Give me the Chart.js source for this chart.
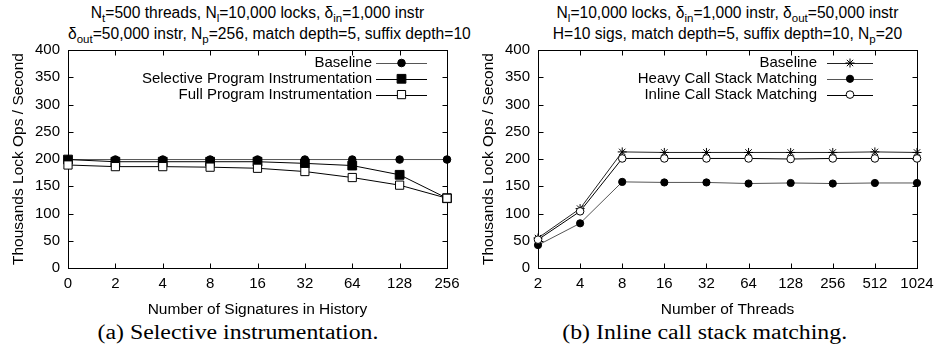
<!DOCTYPE html>
<html>
<head>
<meta charset="utf-8">
<script src="https://cdn.jsdelivr.net/npm/chart.js@4"></script>
<style>
  body { margin: 0; background: #fff; }
  #page { position: relative; width: 938px; height: 359px; overflow: hidden; font-family: "Liberation Sans", Arial, sans-serif; }
  canvas { position: absolute; top: 40px; }
  .title { position: absolute; top: 3px; width: 379px; text-align: center; font-size: 15.6px; line-height: 19px; color: #000; white-space: nowrap; }
  .title .s { font-size: 11.5px; position: relative; top: 4px; }
  .cap { position: absolute; top: 320px; width: 469px; text-align: center; font-family: "Liberation Serif", "Times New Roman", serif; font-size: 20px; line-height: 24px; color: #000; }
  .cap span { display: inline-block; transform: scaleX(1.19); }
</style>
</head>
<body>
<div id="page">
  <div class="title" style="left:68px">N<span class="s">t</span>=500 threads, N<span class="s">l</span>=10,000 locks, δ<span class="s">in</span>=1,000 instr<br>δ<span class="s">out</span>=50,000 instr, N<span class="s">p</span>=256, match depth=5, suffix depth=10</div>
  <div class="title" style="left:538px">N<span class="s">l</span>=10,000 locks, δ<span class="s">in</span>=1,000 instr, δ<span class="s">out</span>=50,000 instr<br>H=10 sigs, match depth=5, suffix depth=10, N<span class="s">p</span>=20</div>
  <canvas id="chartA" width="468" height="280" style="left:0px"></canvas>
  <canvas id="chartB" width="468" height="280" style="left:470px"></canvas>
  <div class="cap" style="left:4px"><span>(a) Selective instrumentation.</span></div>
  <div class="cap" style="left:470px"><span>(b) Inline call stack matching.</span></div>
</div>
<script>
// (a) selective instrumentation
const sigLabels = ["0", "2", "4", "8", "16", "32", "64", "128", "256"];
const baselineA = [199, 199, 199, 199, 199, 199, 199, 199, 199];
const selective = [199, 195, 195, 195, 195, 192, 188, 171, 128];
const fullProg = [189, 186, 186, 185, 183, 177, 166, 152, 128];

// (b) inline call stack matching
const threadLabels = ["2", "4", "8", "16", "32", "64", "128", "256", "512", "1024"];
const baselineB = [55, 109, 213, 212, 212, 212, 212, 212, 213, 212];
const heavy = [42, 82, 158, 157, 157, 155, 156, 155, 156, 156];
const inline = [52, 104, 201, 201, 201, 201, 200, 201, 201, 201];

const TICK_FONT = { family: "Liberation Sans, Arial, sans-serif", size: 15 };
const TITLE_FONT = { family: "Liberation Sans, Arial, sans-serif", size: 15.5 };

function drawMarker(ctx, style, r, x, y, fill) {
  ctx.save();
  ctx.lineWidth = 1;
  ctx.strokeStyle = "#000";
  ctx.fillStyle = fill;
  ctx.beginPath();
  if (style === "circle") {
    ctx.arc(x, y, r, 0, Math.PI * 2);
    ctx.fill();
    ctx.stroke();
  } else if (style === "rect") {
    const h = r * Math.SQRT1_2;
    ctx.rect(x - h, y - h, 2 * h, 2 * h);
    ctx.fill();
    ctx.stroke();
  } else if (style === "star") {
    const d = r * Math.SQRT1_2;
    ctx.moveTo(x - r, y); ctx.lineTo(x + r, y);
    ctx.moveTo(x, y - r); ctx.lineTo(x, y + r);
    ctx.moveTo(x - d, y - d); ctx.lineTo(x + d, y + d);
    ctx.moveTo(x - d, y + d); ctx.lineTo(x + d, y - d);
    ctx.stroke();
  }
  ctx.restore();
}

// gnuplot-like frame with inward ticks on all four sides, plus the right-aligned key
const framePlugin = {
  id: "frame",
  beforeDatasetsDraw(chart) {
    const { ctx, chartArea: a, scales } = chart;
    const L = Math.round(a.left) + 0.5, R = Math.round(a.right) + 0.5;
    const T = Math.round(a.top) + 0.5, B = Math.round(a.bottom) + 0.5;
    ctx.save();
    ctx.strokeStyle = "#000";
    ctx.lineWidth = 1;
    ctx.beginPath();
    scales.y.ticks.forEach((t, i) => {
      const y = Math.round(scales.y.getPixelForTick(i)) + 0.5;
      ctx.moveTo(L, y); ctx.lineTo(L + 5, y);
      ctx.moveTo(R, y); ctx.lineTo(R - 5, y);
    });
    scales.x.ticks.forEach((t, i) => {
      const x = Math.round(scales.x.getPixelForTick(i)) + 0.5;
      ctx.moveTo(x, B); ctx.lineTo(x, B - 5);
      ctx.moveTo(x, T); ctx.lineTo(x, T + 5);
    });
    ctx.stroke();
    ctx.strokeRect(L, T, R - L, B - T);
    ctx.restore();
  },
  afterDraw(chart, args, opts) {
    const { ctx, chartArea: a } = chart;
    ctx.save();
    ctx.font = "15px Liberation Sans, Arial, sans-serif";
    ctx.textAlign = "right";
    ctx.textBaseline = "middle";
    ctx.fillStyle = "#000";
    chart.data.datasets.forEach((ds, i) => {
      const y = a.top + 13 + 15.8 * i;
      ctx.fillText(ds.label, a.right + opts.textRight, y);
      ctx.strokeStyle = ds.borderColor;
      ctx.lineWidth = 1;
      ctx.beginPath();
      ctx.moveTo(a.right + opts.lineStart, Math.round(y) + 0.5);
      ctx.lineTo(a.right + opts.lineEnd, Math.round(y) + 0.5);
      ctx.stroke();
      drawMarker(ctx, ds.pointStyle, ds.pointRadius, a.right + (opts.lineStart + opts.lineEnd) / 2, y, ds.pointBackgroundColor);
    });
    ctx.restore();
  }
};

function series(label, data, style, radius, fill, lineColor, order) {
  return {
    label: label,
    data: data,
    borderColor: lineColor,
    borderWidth: 1,
    tension: 0,
    fill: false,
    pointStyle: style,
    pointRadius: radius,
    pointBackgroundColor: fill,
    pointBorderColor: "#000",
    pointBorderWidth: 1,
    order: order
  };
}

function makeChart(id, labels, datasets, xTitle, key) {
  return new Chart(document.getElementById(id), {
    type: "line",
    data: { labels: labels, datasets: datasets },
    plugins: [framePlugin],
    options: {
      responsive: false,
      animation: false,
      events: [],
      layout: { padding: { top: 10, right: 21, left: 0, bottom: 0 } },
      plugins: { legend: { display: false }, tooltip: { enabled: false }, frame: key },
      scales: {
        x: {
          grid: { display: false, drawTicks: false },
          border: { display: false },
          ticks: { color: "#000", font: TICK_FONT, padding: 7, maxRotation: 0, autoSkip: false },
          title: { display: true, text: xTitle, color: "#000", font: TITLE_FONT, padding: { top: 0, bottom: 1 } },
          afterFit: s => { s.height = 52; s.paddingLeft = 0; s.paddingRight = 0; }
        },
        y: {
          min: 0,
          max: 400,
          grid: { display: false, drawTicks: false },
          border: { display: false },
          ticks: { stepSize: 50, color: "#000", font: TICK_FONT, padding: 8 },
          title: { display: true, text: "Thousands Lock Ops / Second", color: "#000", font: TITLE_FONT, padding: { top: 9, bottom: 0 } },
          afterFit: s => { s.width = 68; s.paddingTop = 0; s.paddingBottom = 0; }
        }
      }
    }
  });
}

makeChart("chartA", sigLabels, [
  series("Baseline", baselineA, "circle", 3.8, "#000", "#555", 0),
  series("Selective Program Instrumentation", selective, "rect", 6.2, "#000", "#000", -1),
  series("Full Program Instrumentation", fullProg, "rect", 5.8, "#fff", "#000", -2)
], "Number of Signatures in History", { textRight: -75, lineStart: -71, lineEnd: -20 });

makeChart("chartB", threadLabels, [
  series("Baseline", baselineB, "star", 4.5, "#000", "#222", 0),
  series("Heavy Call Stack Matching", heavy, "circle", 3.6, "#000", "#555", -1),
  series("Inline Call Stack Matching", inline, "circle", 3.8, "#fff", "#000", -2)
], "Number of Threads", { textRight: -100, lineStart: -90, lineEnd: -44 });
</script>
</body>
</html>
